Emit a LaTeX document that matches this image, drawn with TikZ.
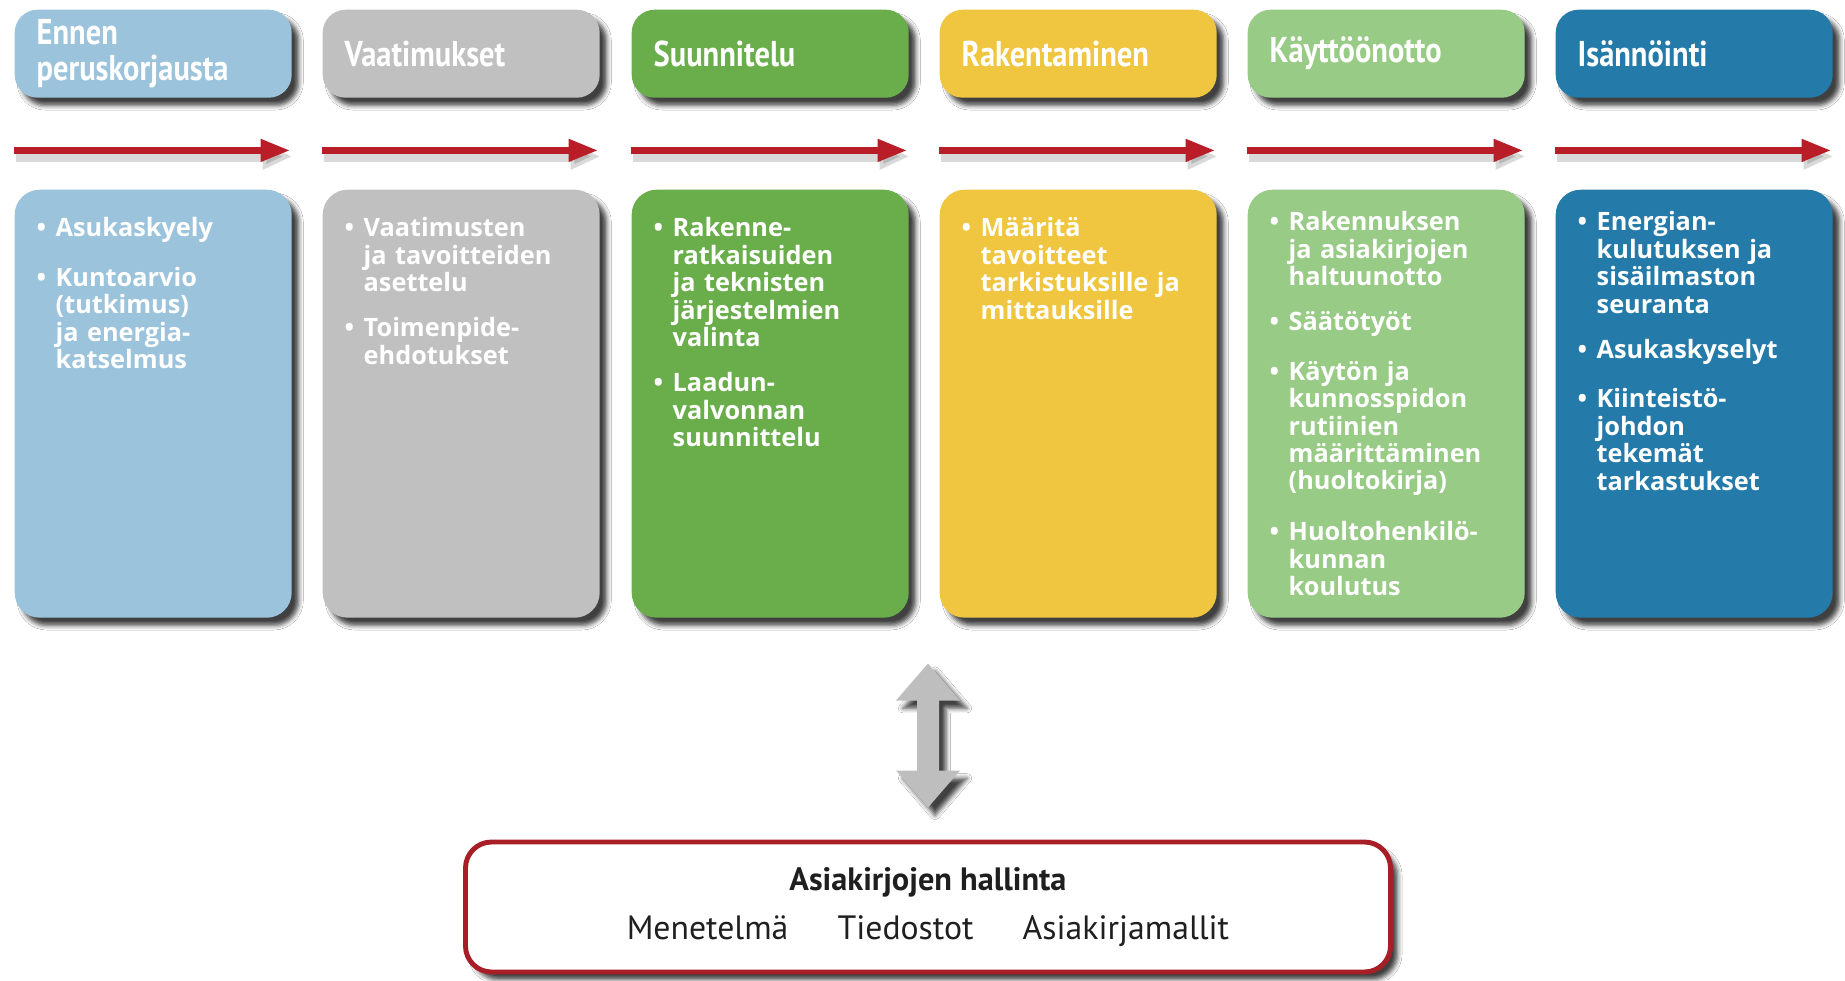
\documentclass[tikz,border=0pt]{standalone}
\usepackage{fontspec}
\setmainfont{Open Sans}
\newfontfamily\hdfont[FakeStretch=0.85]{PT Sans}
\newfontfamily\docfont{PT Sans}
\usetikzlibrary{shadows.blur,arrows.meta,calc}
\definecolor{cA}{HTML}{9BC3DC}
\definecolor{cB}{HTML}{C0C0C0}
\definecolor{cC}{HTML}{6AAE4C}
\definecolor{cD}{HTML}{F0C540}
\definecolor{cE}{HTML}{98CB85}
\definecolor{cF}{HTML}{247AA8}
\definecolor{arrred}{HTML}{B91E28}
\definecolor{docred}{HTML}{A81E26}
\definecolor{dblgray}{HTML}{BEBEBE}
\newcommand{\bitem}[1]{\noindent\makebox[1.9mm][l]{\textbullet}\parbox[t]{24mm}{#1}\par}
\newcommand{\isep}{\vspace{6.3pt}}
\tikzset{
  shad/.style={blur shadow={shadow xshift=2pt, shadow yshift=-2.2pt, shadow blur radius=1.3pt, shadow opacity=75}},
  hdrbox/.style={shad, rectangle, rounded corners=2.3mm, anchor=north west, minimum width=27.7mm, minimum height=8.8mm, inner xsep=2.2mm, inner ysep=0pt, text width=23.3mm, align=left, text=white, font=\hdfont\bfseries\fontsize{10.2}{10}\selectfont},
  conbox/.style={shad, rectangle, rounded corners=2.5mm, anchor=north west, minimum width=27.7mm, minimum height=42.8mm, inner sep=0pt},
  contxt/.style={anchor=north west, inner sep=0pt, text width=26mm, text=white, font=\bfseries\fontsize{7.2}{7.8}\selectfont},
  redarrow/.style={draw=arrred, line width=2pt, -{Triangle[length=8.5pt,width=6pt]}},
  redshadow/.style={draw=black, opacity=0.15, line width=3pt, -{Triangle[length=8.5pt,width=7pt]}},
  docbox/.style={shad, draw=docred, line width=1.4pt, fill=white, rounded corners=2.6mm, minimum width=92.5mm, minimum height=13mm, inner sep=0pt, align=center, text=black!88, font=\docfont\fontsize{9.2}{13.7}\selectfont},
}
\begin{document}
\begin{tikzpicture}[x=0.1mm,y=-0.1mm]
\fill[white] (0,0) rectangle (1845,980);
\useasboundingbox (0,0) rectangle (1845,980);

% headers
\node[hdrbox, fill=cA] (h1) at (14,9) {Ennen\\peruskorjausta};
\node[hdrbox, fill=cB] (h2) at (322,9) {Vaatimukset};
\node[hdrbox, fill=cC] (h3) at (631,9) {Suunnitelu};
\node[hdrbox, fill=cD] (h4) at (939,9) {Rakentaminen};
\node[hdrbox, fill=cE] (h5) at (1247,9) {Käyttöönotto};
\node[hdrbox, fill=cF] (h6) at (1555,9) {Isännöinti};

% red arrows
\foreach \i in {1,...,6}{
  \coordinate (a\i) at ($(h\i.south west)+(0,52)$);
  \coordinate (b\i) at ($(h\i.south east)+(-2,52)$);
  \draw[redshadow] ($(a\i)+(2,6)$) -- ($(b\i)+(2,6)$);
  \draw[redarrow] (a\i) -- (b\i);
}

% content boxes
\node[conbox, fill=cA] (c1) at (14,189) {};
\node[conbox, fill=cB] (c2) at (322,189) {};
\node[conbox, fill=cC] (c3) at (631,189) {};
\node[conbox, fill=cD] (c4) at (939,189) {};
\node[conbox, fill=cE] (c5) at (1247,189) {};
\node[conbox, fill=cF] (c6) at (1555,189) {};

\node[contxt] (t1) at ($(c1.north west)+(22,28)$) {%
\bitem{Asukaskyely}\isep
\bitem{Kuntoarvio\\(tutkimus)\\ja energia-\\katselmus}};
\node[contxt] (t2) at ($(c2.north west)+(22,28)$) {%
\bitem{Vaatimusten\\ja tavoitteiden\\asettelu}\isep
\bitem{Toimenpide-\\ehdotukset}};
\node[contxt] (t3) at ($(c3.north west)+(22,28)$) {%
\bitem{Rakenne-\\ratkaisuiden\\ja teknisten\\järjestelmien\\valinta}\isep
\bitem{Laadun-\\valvonnan\\suunnittelu}};
\node[contxt] (t4) at ($(c4.north west)+(22,28)$) {%
\bitem{Määritä\\tavoitteet\\tarkistuksille ja\\mittauksille}};
\node[contxt] (t5) at ($(c5.north west)+(22,22)$) {%
\bitem{Rakennuksen\\ja asiakirjojen\\haltuunotto}\isep
\bitem{Säätötyöt}\isep
\bitem{Käytön ja\\kunnosspidon\\rutiinien\\määrittäminen\\(huoltokirja)}\isep
\bitem{Huoltohenkilö-\\kunnan\\koulutus}};
\node[contxt] (t6) at ($(c6.north west)+(22,22)$) {%
\bitem{Energian-\\kulutuksen ja\\sisäilmaston\\seuranta}\isep
\bitem{Asukaskyselyt}\isep
\bitem{Kiinteistö-\\johdon\\tekemät\\tarkastukset}};

% document management box
\node[docbox] (doc) at (928,907) {\textbf{Asiakirjojen hallinta}\\{\fontsize{9.6}{13.7}\selectfont Menetelmä\hspace{14pt}Tiedostot\hspace{14pt}Asiakirjamallit}};

% double arrow
\coordinate (dtop) at ($(doc.north)+(0,-176)$);
\fill[dblgray, shad] (dtop) -- ++(32,37) -- ++(-21,0) -- ++(0,70) -- ++(21,0) -- ++(-32,37) -- ++(-32,-37) -- ++(21,0) -- ++(0,-70) -- ++(-21,0) -- cycle;
\end{tikzpicture}
\end{document}
